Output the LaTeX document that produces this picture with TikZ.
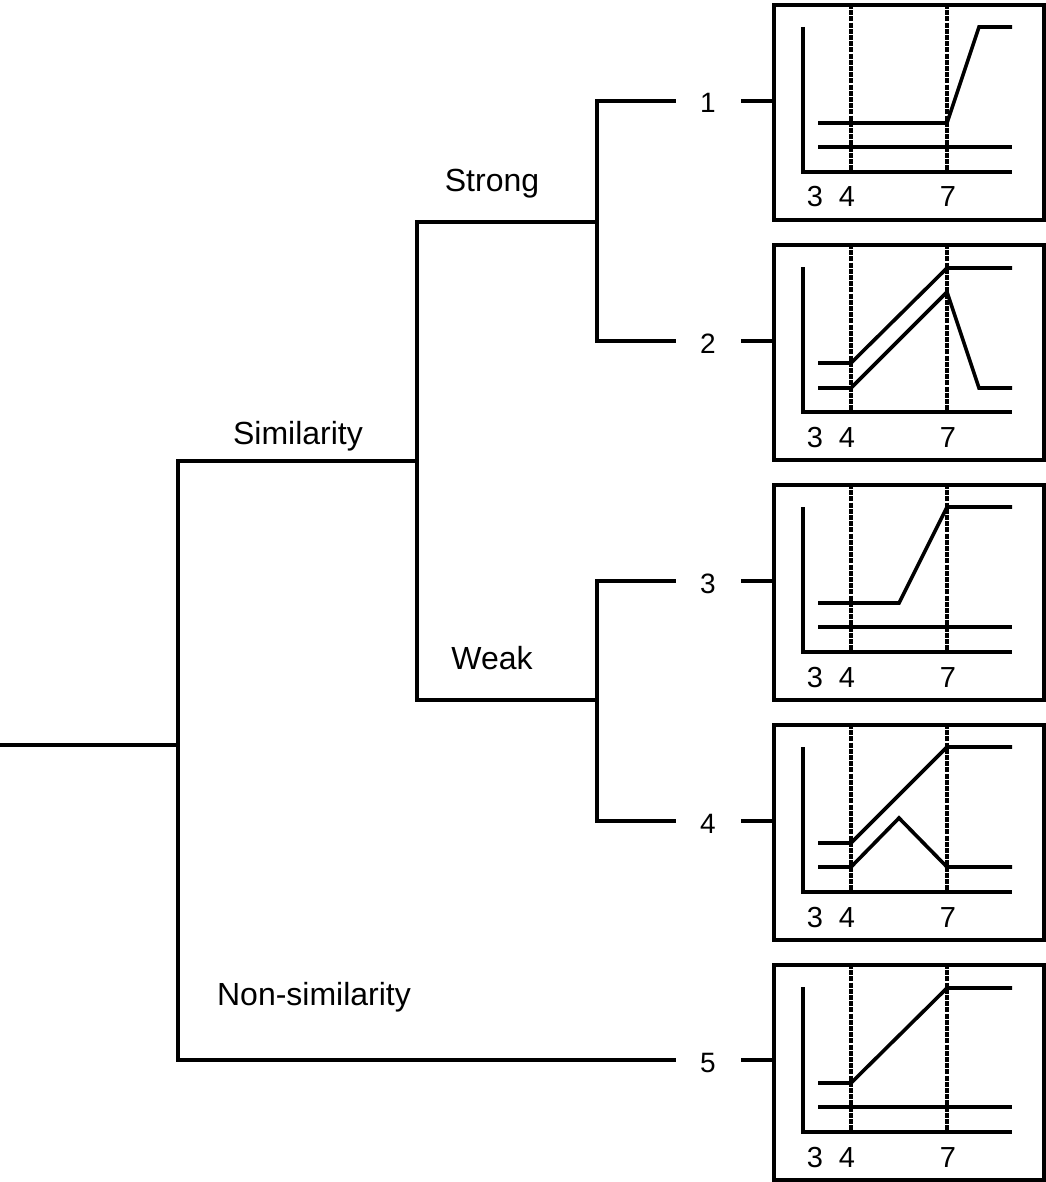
\documentclass[tikz,border=0pt]{standalone}
\usepackage{fontspec}
\setmainfont{Liberation Sans}
\begin{document}
\begin{tikzpicture}[x=1pt,y=-1pt,line width=3.2pt,line cap=rect,
  lbl/.style={font=\fontsize{32}{38}\selectfont,inner sep=0pt,anchor=base},
  num/.style={font=\fontsize{28}{34}\selectfont,inner sep=0pt,anchor=base,minimum width=65pt},
  tick/.style={font=\fontsize{29}{34}\selectfont,inner sep=0pt,anchor=base},
  panel/.style={draw,line width=3.6pt,minimum width=270pt,minimum height=215pt,anchor=north west,inner sep=0pt},
  guide/.style={line width=3.2pt,dash pattern=on 5pt off 1.2pt,line cap=butt},
  trace/.style={line width=3.6pt,line join=miter,line cap=butt}]
\useasboundingbox (0,0) rectangle (1045,1182);

% panels
\foreach \i/\t in {1/3,2/243,3/483,4/723,5/963}{
  \node[panel] (p\i) at (772,\t) {};
}
\newcommand{\panelframe}[1]{%
  \begin{scope}[shift={(p#1.north west)}]
    \draw[trace] (31,24) -- (31,169) -- (240,169);
    \node[tick] (t3p#1) at (43,204) {3};
    \node[tick] (t4p#1) at (75,204) {4};
    \node[tick] (t7p#1) at (176,204) {7};
  \end{scope}}
\newcommand{\panelguides}[1]{%
  \begin{scope}[shift={(p#1.north west)}]
    \draw[guide] (79,1) -- (79,169);
    \draw[guide] (175,1) -- (175,169);
  \end{scope}}

\panelframe{1}
\begin{scope}[shift={(p1.north west)}]
  \draw[trace] (46,120) -- (175,120) -- (207,24) -- (240,24);
  \draw[trace] (46,144) -- (240,144);
\end{scope}
\panelguides{1}

\panelframe{2}
\begin{scope}[shift={(p2.north west)}]
  \draw[trace] (46,120) -- (79,120) -- (175,25) -- (240,25);
  \draw[trace] (46,145) -- (79,145) -- (175,49) -- (207,145) -- (240,145);
\end{scope}
\panelguides{2}

\panelframe{3}
\begin{scope}[shift={(p3.north west)}]
  \draw[trace] (46,120) -- (127,120) -- (175,24) -- (240,24);
  \draw[trace] (46,144) -- (240,144);
\end{scope}
\panelguides{3}

\panelframe{4}
\begin{scope}[shift={(p4.north west)}]
  \draw[trace] (46,120) -- (79,120) -- (175,24) -- (240,24);
  \draw[trace] (46,144) -- (79,144) -- (127,95) -- (175,144) -- (240,144);
\end{scope}
\panelguides{4}

\panelframe{5}
\begin{scope}[shift={(p5.north west)}]
  \draw[trace] (46,120) -- (79,120) -- (175,25) -- (240,25);
  \draw[trace] (46,144) -- (240,144);
\end{scope}
\panelguides{5}

% tree coordinates
\coordinate (start) at (0,745);
\coordinate (root) at (178,745);
\coordinate (rtop) at (178,461);
\coordinate (rbot) at (178,1060);
\coordinate (sim) at (417,461);
\coordinate (simtop) at (417,222);
\coordinate (simbot) at (417,700);
\coordinate (strong) at (597,222);
\coordinate (c1) at (597,101);
\coordinate (c2) at (597,341);
\coordinate (weak) at (597,700);
\coordinate (c3) at (597,581);
\coordinate (c4) at (597,821);

% leaf numbers
\node[num] (n1) at (708,113) {1};
\node[num] (n2) at (708,353) {2};
\node[num] (n3) at (708,593) {3};
\node[num] (n4) at (708,833) {4};
\node[num] (n5) at (708,1072) {5};

% branch labels
\node[lbl] (lstrong) at (492,192) {Strong};
\node[lbl] (lsim) at (298,444) {Similarity};
\node[lbl] (lweak) at (492,669) {Weak};
\node[lbl] (lnon) at (314,1005) {Non-similarity};

% connectors
\draw (start) -- (root);
\draw (rtop) -- (rbot);
\draw (rtop) -- (sim);
\draw (simtop) -- (simbot);
\draw (simtop) -- (strong);
\draw (c1) -- (c2);
\draw (simbot) -- (weak);
\draw (c3) -- (c4);

\draw (c1) -- (c1 -| n1.west);
\draw (n1.east |- c1) -- (c1 -| p1.west);
\draw (c2) -- (c2 -| n2.west);
\draw (n2.east |- c2) -- (c2 -| p2.west);
\draw (c3) -- (c3 -| n3.west);
\draw (n3.east |- c3) -- (c3 -| p3.west);
\draw (c4) -- (c4 -| n4.west);
\draw (n4.east |- c4) -- (c4 -| p4.west);
\draw (rbot) -- (rbot -| n5.west);
\draw (n5.east |- rbot) -- (rbot -| p5.west);
\end{tikzpicture}
\end{document}
